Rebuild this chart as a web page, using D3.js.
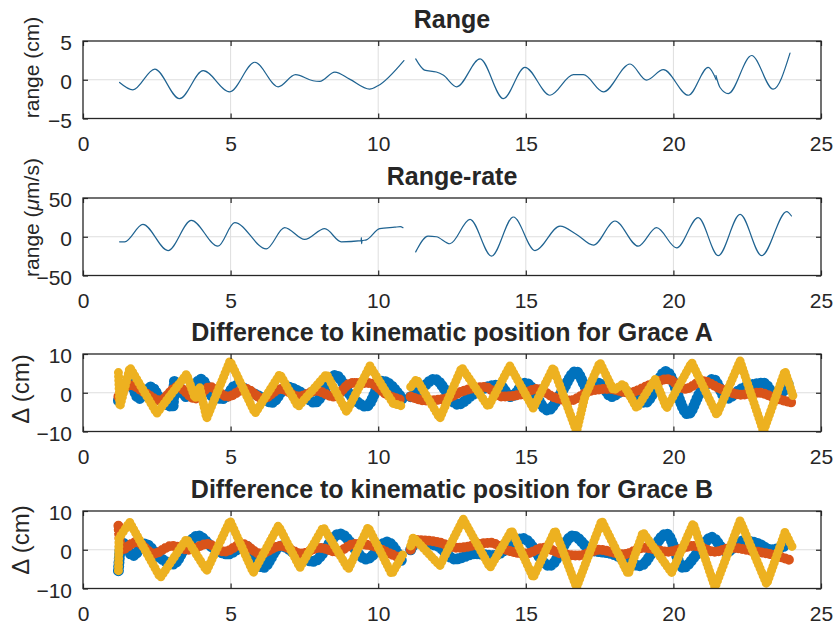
<!DOCTYPE html>
<html>
<head>
<meta charset="utf-8">
<script src="https://cdn.jsdelivr.net/npm/d3@7"></script>
<style>
  body { margin: 0; background: #fff; }
  svg { display: block; }
  text { font-family: "Liberation Sans", Arial, Helvetica, sans-serif; fill: #262626; }
</style>
</head>
<body>
<svg id="chart" width="834" height="629"></svg>
<script>
// ---- shared axis values ----
const timeTicks = [0, 5, 10, 15, 20, 25];
const rangeTicks = [-5, 0, 5];
const rateTicks = [-50, 0, 50];
const deltaTicks = [-10, 0, 10];

// ---- Range (cm): [time, value] ----
const rangeSeg1 = [[1.24,-0.35],[1.69,-1.3],[2.43,1.38],[3.27,-2.44],[4.07,1.17],[4.97,-1.56],[5.82,2.26],[6.61,-0.91],[7.2,0.65],[7.79,-0.13],[8.02,-0.2],[8.53,0.99],[9.03,0.08],[9.71,-1.22],[9.99,-0.78],[10.87,2.48]];
const rangeSeg2 = [[11.27,2.69],[11.57,1.25],[11.97,1.0],[12.2,0.6],[12.66,-0.91],[13.45,2.69],[14.24,-2.44],[14.97,1.6],[15.82,-2.0],[16.61,0.65],[16.95,0.65],[17.63,-1.56],[18.53,2.03],[19.09,-0.05],[19.66,1.3],[20.51,-2.0],[21.18,1.6],[21.45,0.0]];
const rangeSeg3 = [[21.44,0.55],[21.58,-1.0],[21.86,-1.78],[22.65,3.13],[23.38,-1.22],[23.95,3.43]];

// ---- Range-rate (um/s): [time, value] ----
const rateSeg1 = [[1.24,-6.5],[1.41,-6.5],[2.03,16],[2.88,-17.8],[3.67,21.2],[4.57,-12.2],[5.14,18.2],[6.21,-15.6],[6.83,11.7],[7.51,-3.5],[8.19,10.4],[8.75,-6.5],[9.42,-5],[9.43,-1],[9.44,-9],[9.45,-5],[9.6,-4],[10.05,10.4],[10.56,12.3],[10.75,13],[10.84,11.7]];
const rateSeg2 = [[11.27,-19.5],[11.69,0.8],[11.97,0],[12.43,-9],[13.11,22.5],[13.84,-25],[14.58,25.5],[15.31,-17.8],[16.16,13.8],[16.72,3],[17.29,-10.8],[18.02,20.3],[18.81,-12.2],[19.43,11.7],[20.11,-14.3],[20.84,24.7],[21.52,-24.3],[22.26,29],[22.99,-24.3],[23.84,32.5],[24.0,26.8]];

// ---- Difference to kinematic position, Grace A (cm) ----
const graceA_blue1 = [[1.2,-2],[1.55,3],[1.9,-1.5],[2.3,1.5],[2.7,-2.5],[3.05,-3.5],[3.1,3],[3.5,-1],[4.0,3.5],[4.4,-1],[4.75,-1.5],[5.2,2],[5.6,0.5],[6.0,-1],[6.4,-2.5],[6.9,1.5],[7.4,0],[7.85,-2.5],[8.55,4.5],[9.1,-1],[9.6,-3.5],[10.15,3],[10.85,-2]];
const graceA_blue2 = [[11.1,-1],[11.4,0.5],[11.9,3.5],[12.7,-3],[13.2,-0.5],[13.7,1.5],[14.1,2],[14.5,-1],[15.0,2.5],[15.75,-4.5],[16.2,0],[16.7,5.5],[17.1,1],[17.5,2.5],[17.9,-1],[18.3,0.5],[19.05,-2.5],[19.75,5.5],[20.5,-5.5],[20.9,0],[21.35,3.5],[21.8,-1.5],[22.3,1],[23.05,2.5],[23.5,-1],[23.9,2.5]];
const graceA_orange1 = [[1.2,-1],[1.6,2],[2.1,0],[2.6,-2],[3.2,1.5],[3.8,-1.5],[4.3,1.5],[4.9,-1],[5.5,1],[6.1,-1.5],[6.7,1],[7.3,-1],[7.9,0.5],[8.5,-1],[9.1,2.5],[9.7,2.5],[10.3,-0.5],[10.85,-2]];
const graceA_orange2 = [[11.1,-1],[11.6,-2],[12.3,-1.5],[12.9,0.5],[13.6,1.5],[14.2,-1],[14.8,-0.5],[15.4,1],[15.9,-1],[16.5,-2],[17.2,0.5],[17.8,1],[18.5,0],[19.2,2],[19.8,3.5],[20.4,1],[21.0,3],[21.6,1],[22.3,-0.5],[22.9,0],[23.5,-1.5],[24.0,-2.5]];
const graceA_yellow1 = [[1.2,5.2],[1.25,-3.6],[1.59,6.5],[2.5,-5.3],[3.51,4.8],[3.8,-1.5],[3.95,1.5],[4.19,-6.6],[4.98,8.2],[5.83,-5.3],[6.67,4.8],[7.29,-3.6],[8.25,4.8],[8.93,-4.9],[9.72,6.9],[10.51,-2.8],[10.85,-3.5]];
const graceA_yellow2 = [[11.1,1.5],[11.3,3.5],[12.09,-6.6],[12.83,6.5],[13.73,-3.6],[14.46,6.9],[15.25,-4.0],[15.93,6.5],[16.72,-10],[17.0,-1],[17.51,7.8],[17.97,0.6],[18.3,2.3],[18.76,-4],[19.38,3.5],[19.77,-4],[20.62,7.8],[21.47,-5.7],[22.26,8.2],[23.05,-10],[23.78,5.6],[24.06,-1]];

// ---- Difference to kinematic position, Grace B (cm) ----
const graceB_blue1 = [[1.2,-5.4],[1.3,2],[1.7,-1.5],[2.1,1.5],[2.6,-2],[3.06,-3.7],[3.5,1],[3.9,3.6],[4.4,0.5],[4.9,-1.1],[5.5,1],[6.1,-4.6],[6.7,1],[7.2,-1],[7.8,-3],[8.7,4.1],[9.6,-2.4],[10.3,2],[10.8,-3]];
const graceB_blue2 = [[11.1,0],[11.3,1.9],[12.0,1],[12.6,-2.4],[13.3,-1],[13.9,-1.5],[14.9,2.9],[15.8,-4.1],[16.6,3.6],[17.2,0],[17.9,-1],[18.87,-4.1],[19.77,4.1],[20.33,-4.6],[20.8,-1],[21.3,3.2],[21.8,-0.5],[22.37,2.3],[22.9,1.5],[23.3,0],[23.8,1.1]];
const graceB_orange1 = [[1.2,6.2],[1.3,0],[1.8,2],[2.4,-1],[3.0,1],[3.6,0],[4.2,1.5],[4.8,-0.5],[5.4,1.5],[6.0,-1],[6.7,1],[7.4,-1],[8.0,0.5],[8.6,-0.5],[9.2,1.5],[9.8,1],[10.4,-1],[10.85,-2.5]];
const graceB_orange2 = [[11.1,0],[11.3,2.5],[12.0,2],[12.7,0.5],[13.8,1.8],[14.4,-0.2],[15.0,-1],[15.6,0.5],[16.2,-1],[16.8,-1.5],[17.5,0],[18.3,-1.2],[19.0,0.5],[19.8,-0.5],[20.7,1],[21.4,-0.5],[22.0,0.5],[22.6,-0.2],[23.2,-1],[24.0,-2.8]];
const graceB_yellow1 = [[1.2,-5.4],[1.22,3],[1.58,7.1],[2.62,-7.2],[3.51,2.8],[4.19,-5.4],[4.98,7.5],[5.77,-5.9],[6.62,6.2],[7.35,-4.6],[8.14,5.8],[8.99,-5.0],[9.66,5.8],[10.46,-6.3],[10.85,-1]];
const graceB_yellow2 = [[11.1,1],[11.19,3.2],[12.09,-4.1],[12.88,7.9],[13.79,-4.6],[14.52,5.0],[15.25,-7.2],[15.99,5.0],[16.72,-9.7],[17.57,7.5],[18.47,-6.3],[18.97,4.5],[19.94,-5.9],[20.67,6.8],[21.41,-9.7],[22.26,7.5],[23.16,-8.9],[23.78,4.5],[24.06,0.2]];

// ---- layout ----
const svg = d3.select("#chart");
const axLeft = 83, axRight = 821, axH = 77.5;
const x = d3.scaleLinear().domain([0, 25]).range([axLeft, axRight]);

const C_BLUE = "#0072BD", C_ORANGE = "#D95319", C_YELLOW = "#EDB120";
const C_LINE = "#1f6391";

// thick traces are drawn as closely spaced round dots (marker-like look)
const BEADS = "0 4";

const panels = [
  { top: 41,  title: "Range", yDomain: [-5, 5], yTicks: rangeTicks,
    label: [{t: "range (cm)"}], labelX: 39, labelY: 67.5, labelSize: 21,
    series: [
      { data: [rangeSeg1, rangeSeg2, rangeSeg3], color: C_LINE, width: 1.2, curve: d3.curveMonotoneX }
    ] },
  { top: 198, title: "Range-rate", yDomain: [-50, 50], yTicks: rateTicks,
    label: [{t: "range ("}, {t: "\u03bc", italic: true}, {t: "m/s)"}], labelX: 39, labelY: 217.5, labelSize: 21,
    series: [
      { data: [rateSeg1, rateSeg2], color: C_LINE, width: 1.2, curve: d3.curveMonotoneX }
    ] },
  { top: 354, title: "Difference to kinematic position for Grace A", yDomain: [-10, 10], yTicks: deltaTicks,
    label: [{t: "\u0394 (cm)"}], labelX: 29, labelY: 389, labelSize: 24,
    series: [
      { data: [graceA_blue1, graceA_blue2], color: C_BLUE, width: 11, curve: d3.curveMonotoneX, dash: BEADS },
      { data: [graceA_orange1, graceA_orange2], color: C_ORANGE, width: 10, curve: d3.curveMonotoneX, dash: BEADS },
      { data: [graceA_yellow1, graceA_yellow2], color: C_YELLOW, width: 9, curve: d3.curveLinear, dash: BEADS }
    ] },
  { top: 511, title: "Difference to kinematic position for Grace B", yDomain: [-10, 10], yTicks: deltaTicks,
    label: [{t: "\u0394 (cm)"}], labelX: 29, labelY: 540, labelSize: 24,
    series: [
      { data: [graceB_blue1, graceB_blue2], color: C_BLUE, width: 11, curve: d3.curveMonotoneX, dash: BEADS },
      { data: [graceB_orange1, graceB_orange2], color: C_ORANGE, width: 10, curve: d3.curveMonotoneX, dash: BEADS },
      { data: [graceB_yellow1, graceB_yellow2], color: C_YELLOW, width: 9, curve: d3.curveLinear, dash: BEADS }
    ] }
];

panels.forEach((p, i) => {
  const y = d3.scaleLinear().domain(p.yDomain).range([p.top + axH, p.top]);
  const g = svg.append("g").attr("class", "panel-" + i);
  const clipId = "clip" + i;
  svg.append("defs").append("clipPath").attr("id", clipId)
    .append("rect").attr("x", axLeft).attr("y", p.top).attr("width", axRight - axLeft).attr("height", axH);

  // grid
  const grid = g.append("g").attr("stroke", "#dedede").attr("stroke-width", 1);
  timeTicks.slice(1, -1).forEach(t => grid.append("line")
    .attr("x1", x(t)).attr("x2", x(t)).attr("y1", p.top).attr("y2", p.top + axH));
  p.yTicks.slice(1, -1).forEach(v => grid.append("line")
    .attr("x1", axLeft).attr("x2", axRight).attr("y1", y(v)).attr("y2", y(v)));

  // data
  const plot = g.append("g").attr("clip-path", `url(#${clipId})`);
  p.series.forEach(s => {
    const line = d3.line().x(d => x(d[0])).y(d => y(d[1])).curve(s.curve);
    s.data.forEach(seg => {
      const path = plot.append("path").attr("d", line(seg))
        .attr("fill", "none").attr("stroke", s.color).attr("stroke-width", s.width)
        .attr("stroke-linejoin", "round").attr("stroke-linecap", "round");
      if (s.dash) path.attr("stroke-dasharray", s.dash);
    });
  });

  // axes (ticks point inward, labels outside)
  const fs = 21;
  const bottomAxis = g.append("g").attr("transform", `translate(0,${p.top + axH})`)
    .call(d3.axisBottom(x).tickValues(timeTicks).tickSize(-5).tickPadding(18).tickFormat(d3.format("d")));
  const topAxis = g.append("g").attr("transform", `translate(0,${p.top})`)
    .call(d3.axisTop(x).tickValues(timeTicks).tickSize(-5).tickFormat(""));
  const leftAxis = g.append("g").attr("transform", `translate(${axLeft},0)`)
    .call(d3.axisLeft(y).tickValues(p.yTicks).tickSize(-5).tickPadding(11).tickFormat(d3.format("d")));
  const rightAxis = g.append("g").attr("transform", `translate(${axRight},0)`)
    .call(d3.axisRight(y).tickValues(p.yTicks).tickSize(-5).tickFormat(""));
  [bottomAxis, topAxis, leftAxis, rightAxis].forEach(a => {
    a.select(".domain").remove();
    a.selectAll("line").attr("stroke", "#262626").attr("stroke-width", 1.2);
    a.selectAll("text").attr("font-size", fs).attr("fill", "#333333")
      .style("font-family", "'Liberation Sans', Arial, Helvetica, sans-serif");
  });
  leftAxis.selectAll("text").attr("dy", "0.42em");

  // box
  g.append("rect").attr("x", axLeft).attr("y", p.top).attr("width", axRight - axLeft).attr("height", axH)
    .attr("fill", "none").attr("stroke", "#262626").attr("stroke-width", 1.3);

  // title
  g.append("text").attr("x", (axLeft + axRight) / 2).attr("y", p.top - 13)
    .attr("text-anchor", "middle").attr("font-size", 25).attr("font-weight", "bold")
    .attr("fill", "#000").text(p.title);

  // y label
  const lab = g.append("text")
    .attr("transform", `translate(${p.labelX},${p.labelY}) rotate(-90)`)
    .attr("text-anchor", "middle").attr("font-size", p.labelSize).attr("fill", "#333333");
  p.label.forEach(part => {
    const ts = lab.append("tspan").text(part.t);
    if (part.italic) ts.attr("font-style", "italic");
  });
});
</script>
</body>
</html>
